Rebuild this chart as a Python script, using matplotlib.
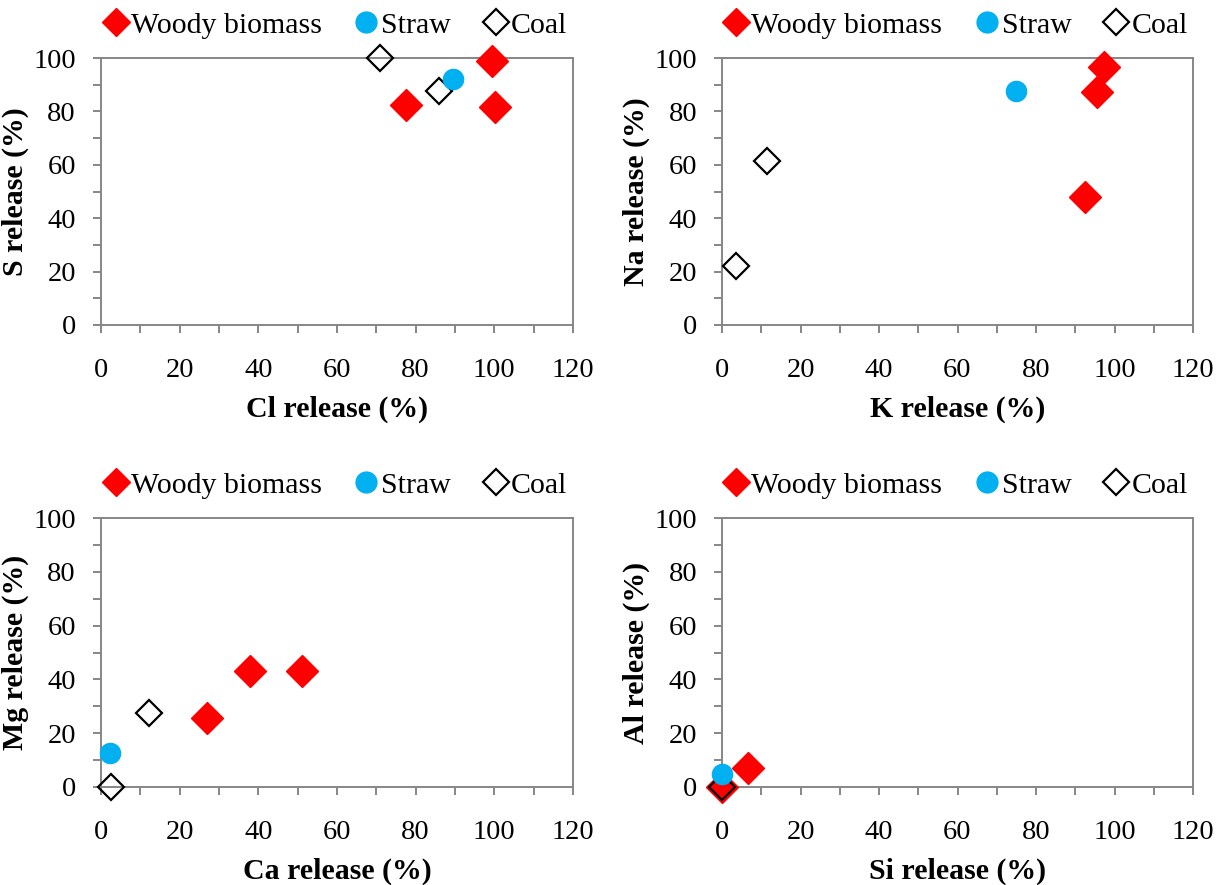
import matplotlib
matplotlib.use("Agg")
import matplotlib.pyplot as plt
from matplotlib.lines import Line2D

plt.rcParams['font.family'] = ['Liberation Serif', 'DejaVu Serif']

# Cl vs S release (%)
cl_woody = [77.5, 99.5, 100.2]
s_woody = [82.5, 98.8, 81.8]
cl_straw = [89.5]
s_straw = [92.3]
cl_coal = [71.0, 86.0]
s_coal = [100.0, 87.5]

# K vs Na release (%)
k_woody = [97.2, 95.5, 92.4]
na_woody = [96.5, 87.3, 48.0]
k_straw = [75.0]
na_straw = [87.8]
k_coal = [11.5, 3.6]
na_coal = [61.5, 22.0]

# Ca vs Mg release (%)
ca_woody = [38.0, 51.0, 27.0]
mg_woody = [43.0, 43.0, 25.5]
ca_straw = [2.3]
mg_straw = [12.5]
ca_coal = [12.2, 2.5]
mg_coal = [27.5, 0.0]

# Si vs Al release (%)
si_woody = [6.5, 0.0]
al_woody = [7.2, 0.0]
si_straw = [0.0]
al_straw = [4.8]
si_coal = [0.0]
al_coal = [0.0]

panels = [
    (cl_woody, s_woody, cl_straw, s_straw, cl_coal, s_coal, "Cl release (%)", "S release (%)"),
    (k_woody, na_woody, k_straw, na_straw, k_coal, na_coal, "K release (%)", "Na release (%)"),
    (ca_woody, mg_woody, ca_straw, mg_straw, ca_coal, mg_coal, "Ca release (%)", "Mg release (%)"),
    (si_woody, al_woody, si_straw, al_straw, si_coal, al_coal, "Si release (%)", "Al release (%)"),
]

W, H = 1225, 885
fig = plt.figure(figsize=(W / 100, H / 100), dpi=100)

# axes boxes in pixels: left, top, right, bottom
boxes = [(101, 58, 573, 325), (722, 58, 1193, 325),
         (101, 518, 573, 787), (722, 518, 1193, 787)]

red = "#ff0000"
blue = "#00b0f0"
gray = "#868686"

for (xw, yw, xs, ys, xc, yc, xlab, ylab), (l, t, r, b) in zip(panels, boxes):
    ax = fig.add_axes([l / W, 1 - b / H, (r - l) / W, (b - t) / H])
    ax.plot(xw, yw, linestyle="none", marker="D", ms=16, color=red, zorder=3, clip_on=False)
    ax.plot(xc, yc, linestyle="none", marker="D", ms=13, mfc="none", mec="black",
            mew=1.6, zorder=4, clip_on=False)
    ax.plot(xs, ys, linestyle="none", marker="o", ms=14.5, color=blue, zorder=5, clip_on=False)
    ax.set_xlim(0, 120)
    ax.set_ylim(0, 100)
    ax.set_xticks(range(0, 121, 20))
    ax.set_xticks(range(0, 121, 10), minor=True)
    ax.set_yticks(range(0, 101, 20))
    ax.set_yticks(range(0, 101, 10), minor=True)
    for sp in ax.spines.values():
        sp.set_color(gray)
        sp.set_linewidth(1.4)
    ax.tick_params(which="both", direction="out", color=gray, width=1.4, length=6,
                   labelsize=20.5, top=False, right=False)
    ax.tick_params(axis="x", which="major", pad=18)
    ax.tick_params(axis="y", which="major", pad=12)
    ax.set_xlabel(xlab, fontsize=21.5, fontweight="bold", labelpad=9)
    ax.set_ylabel(ylab, fontsize=21.5, fontweight="bold", labelpad=3)

    handles = [
        Line2D([], [], linestyle="none", marker="D", ms=14, color=red),
        Line2D([], [], linestyle="none", marker="o", ms=15, color=blue),
        Line2D([], [], linestyle="none", marker="D", ms=13, mfc="none", mec="black", mew=1.6),
    ]
    ax.legend(handles, ["Woody biomass", "Straw", "Coal"], loc="lower center",
              bbox_to_anchor=(0.5, 1.0), ncol=3, frameon=False, fontsize=21.5,
              handlelength=0.6, handletextpad=0.2, columnspacing=1.2,
              borderaxespad=0.25)

fig.savefig("out.png", dpi=100)
